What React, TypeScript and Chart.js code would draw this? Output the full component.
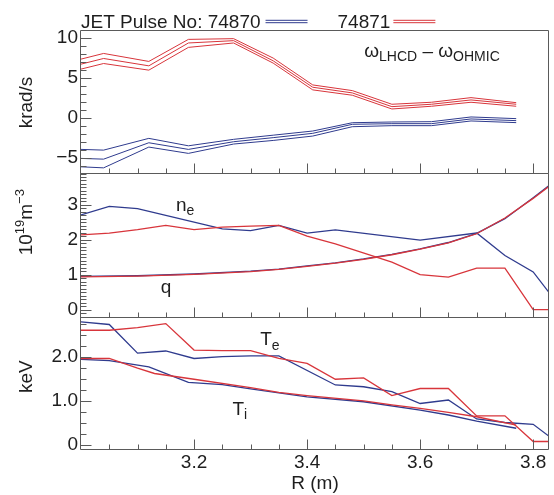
import React, { useEffect, useRef } from 'react';
import { Chart, registerables } from 'chart.js';
Chart.register(...registerables);

const FONT = '"Liberation Sans", Arial, Helvetica, sans-serif';
const BLUE = '#2f3b8e';
const RED = '#d8353b';
const FRAME = '#5a5a5a';
const TEXT = '#1e1e1e';

// ---------- x axis ----------
const R_MIN = 3.0;
const R_MAX = 3.828;
const X_MAJOR = [3.2, 3.4, 3.6, 3.8];
const X_MINOR = [3.05, 3.1, 3.15, 3.25, 3.3, 3.35, 3.45, 3.5, 3.55, 3.65, 3.7, 3.75];

// ---------- top panel: omega_LHCD - omega_OHMIC (krad/s) ----------
const R_OMEGA = [3.0, 3.04, 3.12, 3.19, 3.27, 3.34, 3.41, 3.48, 3.55, 3.62, 3.69, 3.77];
const RED_OMEGA_HI = [7.33, 8.04, 7.04, 9.8, 9.89, 7.46, 4.1, 3.39, 1.68, 1.93, 2.51, 1.88];
const RED_OMEGA = [6.7, 7.41, 6.49, 9.35, 9.64, 7.12, 3.81, 3.1, 1.38, 1.68, 2.22, 1.68];
const RED_OMEGA_LO = [6.08, 6.78, 5.95, 8.8, 9.35, 6.83, 3.48, 2.81, 1.09, 1.43, 1.93, 1.43];
const BLUE_OMEGA_HI = [-3.97, -4.06, -2.59, -3.52, -2.71, -2.19, -1.67, -0.63, -0.54, -0.5, 0.09, -0.12];
const BLUE_OMEGA = [-5.1, -5.19, -3.14, -3.97, -3.01, -2.5, -1.96, -0.83, -0.75, -0.75, -0.16, -0.37];
const BLUE_OMEGA_LO = [-6.15, -6.28, -3.68, -4.47, -3.3, -2.85, -2.3, -1.13, -1.0, -1.0, -0.41, -0.62];
const TOP_Y_MIN = -7.05;
const TOP_Y_MAX = 10.85;
const TOP_Y_TICKS = [-5, 0, 5, 10];
const TOP_Y_MINOR = [-7, -6, -4, -3, -2, -1, 1, 2, 3, 4, 6, 7, 8, 9];

// ---------- middle panel: n_e (10^19 m^-3) and q ----------
const R_NE_BLUE = [3.0, 3.05, 3.1, 3.25, 3.3, 3.35, 3.4, 3.45, 3.6, 3.7, 3.75, 3.8, 3.83];
const NE_BLUE = [2.71, 2.95, 2.89, 2.31, 2.26, 2.41, 2.19, 2.28, 1.99, 2.19, 1.55, 1.08, 0.45];
const R_NE_RED = [3.0, 3.05, 3.1, 3.15, 3.2, 3.25, 3.3, 3.35, 3.4, 3.45, 3.55, 3.6, 3.65, 3.7, 3.75, 3.8, 3.83];
const NE_RED = [2.14, 2.19, 2.29, 2.41, 2.29, 2.36, 2.39, 2.41, 2.1, 1.88, 1.36, 1.0, 0.93, 1.19, 1.19, 0.0, 0.0];
const R_Q = [3.0, 3.1, 3.2, 3.3, 3.35, 3.4, 3.45, 3.5, 3.55, 3.6, 3.65, 3.7, 3.75, 3.8, 3.83];
const Q_BLUE = [0.95, 0.97, 1.02, 1.1, 1.16, 1.25, 1.34, 1.45, 1.58, 1.74, 1.92, 2.18, 2.6, 3.2, 3.57];
const Q_RED = [0.94, 0.96, 1.01, 1.09, 1.15, 1.24, 1.33, 1.44, 1.57, 1.73, 1.91, 2.17, 2.62, 3.18, 3.55];
const MID_Y_MIN = -0.237;
const MID_Y_MAX = 3.877;
const MID_Y_TICKS = [0, 1, 2, 3];
const MID_Y_MINOR = [-0.2, -0.1, 0.1, 0.2, 0.3, 0.4, 0.5, 0.6, 0.7, 0.8, 0.9, 1.1, 1.2, 1.3, 1.4, 1.5, 1.6, 1.7, 1.8, 1.9,
  2.1, 2.2, 2.3, 2.4, 2.5, 2.6, 2.7, 2.8, 2.9, 3.1, 3.2, 3.3, 3.4, 3.5, 3.6, 3.7, 3.8];

// ---------- bottom panel: T_e, T_i (keV) ----------
const R_TE_BLUE = [3.0, 3.05, 3.1, 3.15, 3.2, 3.25, 3.3, 3.35, 3.45, 3.5, 3.55, 3.6, 3.65, 3.7, 3.75, 3.8, 3.83];
const TE_BLUE = [2.79, 2.73, 2.08, 2.13, 1.96, 2.0, 2.02, 2.02, 1.36, 1.32, 1.21, 0.94, 1.02, 0.59, 0.51, 0.47, 0.18];
const R_TE_RED = [3.0, 3.05, 3.1, 3.15, 3.2, 3.25, 3.3, 3.35, 3.4, 3.45, 3.5, 3.55, 3.6, 3.65, 3.7, 3.75, 3.8, 3.83];
const TE_RED = [2.6, 2.6, 2.66, 2.75, 2.15, 2.14, 2.14, 1.96, 1.85, 1.49, 1.52, 1.12, 1.28, 1.28, 0.66, 0.66, 0.08, 0.08];
const R_TI_BLUE = [3.0, 3.05, 3.12, 3.19, 3.25, 3.3, 3.4, 3.5, 3.6, 3.65, 3.7, 3.77];
const TI_BLUE = [1.94, 1.91, 1.77, 1.42, 1.37, 1.27, 1.09, 0.98, 0.79, 0.68, 0.54, 0.38];
const R_TI_RED = [3.0, 3.05, 3.1, 3.13, 3.2, 3.3, 3.35, 3.4, 3.5, 3.55, 3.6, 3.65, 3.7, 3.77];
const TI_RED = [1.96, 1.96, 1.74, 1.62, 1.49, 1.3, 1.19, 1.12, 1.0, 0.91, 0.83, 0.74, 0.64, 0.45];
const BOT_Y_MIN = -0.113;
const BOT_Y_MAX = 2.877;
const BOT_Y_TICKS = [0, 1, 2];
const BOT_Y_MINOR = [0.25, 0.5, 0.75, 1.25, 1.5, 1.75, 2.25, 2.5, 2.75];

// ---------- layout ----------
const W = 554;
const H = 495;
const PLOT_LEFT = 81;
const PLOT_RIGHT = 549;
const PANELS = { top: [31, 174], mid: [174, 318], bot: [318, 450] };

type Run = { t: string; s: number; dy?: number };

function runsWidth(ctx: CanvasRenderingContext2D, runs: Run[]) {
  let w = 0;
  for (const r of runs) {
    ctx.font = `${r.s}px ${FONT}`;
    w += ctx.measureText(r.t).width;
  }
  return w;
}

function drawRuns(ctx: CanvasRenderingContext2D, runs: Run[], x: number, y: number) {
  let cx = x;
  ctx.textAlign = 'left';
  ctx.textBaseline = 'alphabetic';
  for (const r of runs) {
    ctx.font = `${r.s}px ${FONT}`;
    ctx.fillText(r.t, cx, y + (r.dy || 0));
    cx += ctx.measureText(r.t).width;
  }
}

function drawYTitle(ctx: CanvasRenderingContext2D, runs: Run[], cx: number, cy: number) {
  ctx.save();
  ctx.translate(cx, cy);
  ctx.rotate(-Math.PI / 2);
  const w = runsWidth(ctx, runs);
  drawRuns(ctx, runs, -w / 2, 7);
  ctx.restore();
}

function series(xs: number[], ys: number[], color: string, width: number) {
  return {
    data: xs.map((x, i) => ({ x, y: ys[i] })),
    borderColor: color,
    borderWidth: width,
    pointRadius: 0,
    fill: false,
    tension: 0,
  };
}

function framePlugin(yMajor: number[], yMinor: number[], extra: (chart: any) => void) {
  return {
    id: 'frame',
    afterDatasetsDraw(chart: any) {
      const { ctx, chartArea: a, scales } = chart;
      const xs = scales.x;
      const ys = scales.y;
      const L = Math.round(a.left) - 0.5;
      const Rt = Math.round(a.right) - 0.5;
      const T = Math.round(a.top) - 0.5;
      const B = Math.round(a.bottom) - 0.5;
      ctx.save();
      ctx.strokeStyle = FRAME;
      ctx.lineWidth = 1;
      ctx.beginPath();
      ctx.rect(L, T, Rt - L, B - T);
      ctx.stroke();
      ctx.beginPath();
      for (const v of X_MAJOR) {
        const px = Math.round(xs.getPixelForValue(v)) + 0.5;
        ctx.moveTo(px, B);
        ctx.lineTo(px, B - 10);
      }
      for (const v of X_MINOR) {
        const px = Math.round(xs.getPixelForValue(v)) + 0.5;
        ctx.moveTo(px, B);
        ctx.lineTo(px, B - 5);
      }
      for (const v of yMajor) {
        const py = Math.round(ys.getPixelForValue(v)) + 0.5;
        ctx.moveTo(L, py);
        ctx.lineTo(L + 11, py);
      }
      for (const v of yMinor) {
        const py = Math.round(ys.getPixelForValue(v)) + 0.5;
        ctx.moveTo(L, py);
        ctx.lineTo(L + 6, py);
      }
      ctx.stroke();
      ctx.fillStyle = TEXT;
      extra(chart);
      ctx.restore();
    },
  };
}

function yLabel(v: number, decimals: number) {
  if (v === 0) return '0';
  const s = decimals ? v.toFixed(decimals) : String(v);
  return s.replace('-', '\u2212');
}

function makeConfig(opts: {
  area: number[];
  showX: boolean;
  yMin: number;
  yMax: number;
  yTicks: number[];
  yMinor: number[];
  yDec: number;
  datasets: any[];
  extra: (chart: any) => void;
}) {
  const [top, bottom] = opts.area;
  const tickFont = { family: FONT, size: 19 };
  const xScale: any = {
    type: 'linear',
    min: R_MIN,
    max: R_MAX,
    display: opts.showX,
    grid: { display: false, drawTicks: false },
    border: { display: false },
    afterBuildTicks: (s: any) => {
      s.ticks = X_MAJOR.map((v) => ({ value: v }));
    },
    ticks: {
      font: tickFont,
      color: TEXT,
      padding: 1,
      maxRotation: 0,
      autoSkip: false,
      callback: (v: any) => Number(v).toFixed(1),
    },
    title: {
      display: true,
      text: 'R (m)',
      color: TEXT,
      font: { family: FONT, size: 19 },
      padding: { top: 0, bottom: 0 },
    },
  };
  if (opts.showX) {
    xScale.afterFit = (s: any) => {
      s.height = H - bottom;
    };
  }
  return {
    type: 'line',
    data: { datasets: opts.datasets },
    options: {
      animation: false,
      responsive: false,
      devicePixelRatio: 1,
      events: [],
      layout: {
        padding: { left: 0, right: W - PLOT_RIGHT, top, bottom: opts.showX ? 0 : H - bottom },
      },
      plugins: { legend: { display: false }, tooltip: { enabled: false } },
      scales: {
        x: xScale,
        y: {
          type: 'linear',
          min: opts.yMin,
          max: opts.yMax,
          grid: { display: false, drawTicks: false },
          border: { display: false },
          afterBuildTicks: (s: any) => {
            s.ticks = opts.yTicks.map((v) => ({ value: v }));
          },
          afterFit: (s: any) => {
            s.width = PLOT_LEFT;
          },
          ticks: {
            font: tickFont,
            color: TEXT,
            padding: 3,
            autoSkip: false,
            callback: (v: any) => yLabel(Number(v), opts.yDec),
          },
        },
      },
    },
    plugins: [framePlugin(opts.yTicks, opts.yMinor, opts.extra)],
  } as any;
}

function topConfig() {
  return makeConfig({
    area: PANELS.top,
    showX: false,
    yMin: TOP_Y_MIN,
    yMax: TOP_Y_MAX,
    yTicks: TOP_Y_TICKS,
    yMinor: TOP_Y_MINOR,
    yDec: 0,
    datasets: [
      series(R_OMEGA, RED_OMEGA_HI, RED, 1),
      series(R_OMEGA, RED_OMEGA, RED, 1),
      series(R_OMEGA, RED_OMEGA_LO, RED, 1),
      series(R_OMEGA, BLUE_OMEGA_HI, BLUE, 1),
      series(R_OMEGA, BLUE_OMEGA, BLUE, 1),
      series(R_OMEGA, BLUE_OMEGA_LO, BLUE, 1),
    ],
    extra: (chart: any) => {
      const { ctx, chartArea: a, scales } = chart;
      // legend
      ctx.font = `19px ${FONT}`;
      ctx.textAlign = 'left';
      ctx.textBaseline = 'alphabetic';
      const baseY = a.top - 3;
      let x = a.left;
      const t1 = 'JET Pulse No: 74870';
      ctx.fillText(t1, x, baseY);
      x += ctx.measureText(t1).width + 5;
      const lineY = baseY - 6.5;
      const drawKey = (color: string, x0: number) => {
        ctx.strokeStyle = color;
        ctx.lineWidth = 1;
        ctx.beginPath();
        ctx.moveTo(x0, lineY - 1.2);
        ctx.lineTo(x0 + 42, lineY - 1.2);
        ctx.moveTo(x0, lineY + 1.2);
        ctx.lineTo(x0 + 42, lineY + 1.2);
        ctx.stroke();
      };
      drawKey(BLUE, x);
      x += 42 + 30;
      const t2 = '74871';
      ctx.fillStyle = TEXT;
      ctx.fillText(t2, x, baseY);
      x += ctx.measureText(t2).width + 3;
      drawKey(RED, x);
      // annotation
      ctx.fillStyle = TEXT;
      drawRuns(
        ctx,
        [
          { t: '\u03c9', s: 19 },
          { t: 'LHCD', s: 14, dy: 4 },
          { t: ' \u2013 ', s: 19 },
          { t: '\u03c9', s: 19 },
          { t: 'OHMIC', s: 14, dy: 4 },
        ],
        scales.x.getPixelForValue(3.501),
        scales.y.getPixelForValue(7.63)
      );
      drawYTitle(ctx, [{ t: 'krad/s', s: 19 }], 25, scales.y.getPixelForValue(1.9));
    },
  });
}

function midConfig() {
  return makeConfig({
    area: PANELS.mid,
    showX: false,
    yMin: MID_Y_MIN,
    yMax: MID_Y_MAX,
    yTicks: MID_Y_TICKS,
    yMinor: MID_Y_MINOR,
    yDec: 0,
    datasets: [
      series(R_NE_RED, NE_RED, RED, 1.3),
      series(R_Q, Q_RED, RED, 1.3),
      series(R_NE_BLUE, NE_BLUE, BLUE, 1.3),
      series(R_Q, Q_BLUE, BLUE, 1.3),
    ],
    extra: (chart: any) => {
      const { ctx, scales } = chart;
      drawRuns(ctx, [{ t: 'n', s: 19 }, { t: 'e', s: 14, dy: 4 }], scales.x.getPixelForValue(3.168), scales.y.getPixelForValue(2.83));
      drawRuns(ctx, [{ t: 'q', s: 19 }], scales.x.getPixelForValue(3.141), scales.y.getPixelForValue(0.48));
      drawYTitle(
        ctx,
        [
          { t: '10', s: 19 },
          { t: '19', s: 13, dy: -8 },
          { t: 'm', s: 19 },
          { t: '\u22123', s: 13, dy: -8 },
        ],
        25,
        scales.y.getPixelForValue(2.5)
      );
    },
  });
}

function botConfig() {
  return makeConfig({
    area: PANELS.bot,
    showX: true,
    yMin: BOT_Y_MIN,
    yMax: BOT_Y_MAX,
    yTicks: BOT_Y_TICKS,
    yMinor: BOT_Y_MINOR,
    yDec: 1,
    datasets: [
      series(R_TE_RED, TE_RED, RED, 1.3),
      series(R_TI_RED, TI_RED, RED, 1.3),
      series(R_TE_BLUE, TE_BLUE, BLUE, 1.3),
      series(R_TI_BLUE, TI_BLUE, BLUE, 1.3),
    ],
    extra: (chart: any) => {
      const { ctx, scales } = chart;
      drawRuns(ctx, [{ t: 'T', s: 19 }, { t: 'e', s: 14, dy: 5 }], scales.x.getPixelForValue(3.317), scales.y.getPixelForValue(2.26));
      drawRuns(ctx, [{ t: 'T', s: 19 }, { t: 'i', s: 14, dy: 4 }], scales.x.getPixelForValue(3.268), scales.y.getPixelForValue(0.68));
      drawYTitle(ctx, [{ t: 'keV', s: 19 }], 25, scales.y.getPixelForValue(1.55));
    },
  });
}

export default function App() {
  const r1 = useRef<HTMLCanvasElement>(null);
  const r2 = useRef<HTMLCanvasElement>(null);
  const r3 = useRef<HTMLCanvasElement>(null);
  useEffect(() => {
    const charts = [
      new Chart(r1.current as HTMLCanvasElement, topConfig()),
      new Chart(r2.current as HTMLCanvasElement, midConfig()),
      new Chart(r3.current as HTMLCanvasElement, botConfig()),
    ];
    return () => charts.forEach((c) => c.destroy());
  }, []);
  const cs: React.CSSProperties = { position: 'absolute', left: 0, top: 0, width: W, height: H };
  return (
    <div style={{ position: 'absolute', left: 0, top: 0, width: W, height: H, background: '#fff' }}>
      <canvas ref={r1} width={W} height={H} style={cs} />
      <canvas ref={r2} width={W} height={H} style={cs} />
      <canvas ref={r3} width={W} height={H} style={cs} />
    </div>
  );
}
